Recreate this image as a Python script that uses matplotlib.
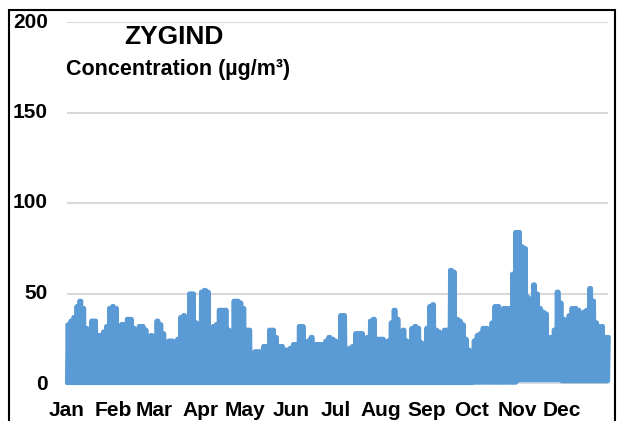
import matplotlib
matplotlib.use("Agg")
import matplotlib.pyplot as plt
from matplotlib.patches import Rectangle
import numpy as np

# ---- data -------------------------------------------------------------
title = "ZYGIND"
subtitle = "Concentration (µg/m³)"
months = ["Jan", "Feb", "Mar", "Apr", "May", "Jun",
          "Jul", "Aug", "Sep", "Oct", "Nov", "Dec"]
month_start_day = [0, 31, 59, 90, 120, 151, 181, 212, 243, 273, 304, 334]
y_ticks = [0, 50, 100, 150, 200]

# peak concentration for each 2-day period of the year
peaks_2day = [
    33, 35, 37, 43, 46, 42, 31, 25, 35, 35,
    27, 27, 29, 32, 42, 43, 42, 29, 33, 33,
    36, 36, 31, 27, 32, 32, 30, 26, 27, 26,
    35, 33, 28, 21, 24, 24, 21, 25, 37, 38,
    32, 50, 50, 34, 33, 51, 52, 51, 24, 32,
    33, 41, 41, 41, 30, 25, 46, 46, 45, 42,
    30, 30, 17, 18, 18, 18, 21, 21, 30, 30,
    26, 21, 21, 19, 19, 20, 22, 22, 32, 32,
    21, 24, 26, 22, 22, 22, 22, 24, 26, 25,
    24, 23, 38, 38, 17, 20, 21, 28, 28, 28,
    22, 26, 35, 36, 25, 25, 25, 21, 24, 34,
    41, 36, 29, 30, 24, 19, 31, 32, 31, 23,
    21, 31, 43, 44, 30, 29, 27, 30, 30, 63,
    62, 36, 35, 33, 25, 19, 18, 24, 27, 28,
    31, 31, 30, 34, 43, 43, 30, 42, 42, 42,
    61, 84, 84, 76, 75, 48, 44, 55, 50, 42,
    40, 39, 26, 26, 30, 51, 45, 36, 35, 38,
    42, 42, 41, 39, 40, 41, 53, 46, 34, 32,
    32, 26, 26,
]
# typical minimum concentration for each month
monthly_low = [0.5, 0.5, 0.5, 0.5, 0.5, 0.5, 0.5, 0.5, 0.5, 0.8, 2.0, 1.5]

# ---- build line (low/peak alternation in each 2-day period) ----------
xs, ys = [], []
for k, p in enumerate(peaks_2day):
    d0 = 2 * k
    m = max(i for i, s in enumerate(month_start_day) if s <= d0)
    lo = monthly_low[m]
    for off, val in ((0.0, lo), (0.5, p), (1.0, lo), (1.5, p)):
        xs.append(d0 + off)
        ys.append(val)

# ---- figure -----------------------------------------------------------
W, H = 620, 421
fig = plt.figure(figsize=(W / 100, H / 100), dpi=100)
fig.patch.set_facecolor("white")
plt.rcParams["font.family"] = ["Liberation Sans", "DejaVu Sans"]

ax = fig.add_axes([67 / W, 1 - 384 / H, (608 - 67) / W, (384 - 22) / H])
ax.set_xlim(0, 365)
ax.set_ylim(0, 200)
for s in ax.spines.values():
    s.set_visible(False)
ax.set_xticks([])
ax.set_yticks([])

for v in y_ticks:
    ax.axhline(v, color="#D9D9D9", lw=1.5, zorder=1)
    ax.text(-19 / 541 * 365, v, str(v), ha="right", va="center",
            fontsize=15, fontweight="bold", color="black", clip_on=False)

ax.plot(xs, ys, color="#5B9BD5", lw=3.0, solid_joinstyle="round",
        solid_capstyle="round", zorder=2, clip_on=False)

for lab, d in zip(months, month_start_day):
    ax.text(d, -14.4, lab, ha="center", va="center", fontsize=15,
            fontweight="bold", color="black", clip_on=False)

fig.text(174 / W, 1 - 37 / H, title, ha="center", va="center",
         fontsize=19, fontweight="bold")
fig.text(178 / W, 1 - 70 / H, subtitle, ha="center", va="center",
         fontsize=15.5, fontweight="bold")

fig.patches.append(Rectangle((9 / W, -0.1), (615 - 9) / W, 1.1 - 10 / H,
                             transform=fig.transFigure, fill=False,
                             edgecolor="black", lw=1.5))

fig.savefig("out.png", dpi=100, facecolor="white")
